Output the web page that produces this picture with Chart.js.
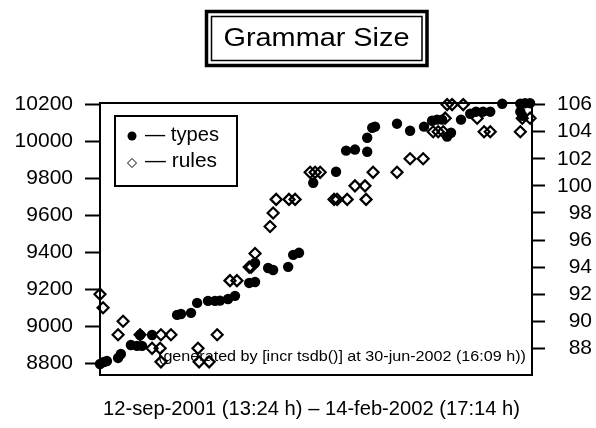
<!DOCTYPE html>
<html>
<head>
<meta charset="utf-8">
<script src="https://cdn.jsdelivr.net/npm/chart.js@4"></script>
<style>
  html, body { margin: 0; padding: 0; background: #fff; }
  #wrap { width: 596px; height: 428px; }
</style>
</head>
<body>
<div id="wrap"><canvas id="chart-grammar"></canvas></div>
<script>
// days since 12-sep-2001 (13:24 h)
const typesDays = [
    0, 1.4, 2.5, 6.5, 7.5, 11.1, 13.3, 14.4, 15.1, 18.7,
    27.7, 29.1, 32.7, 34.9, 38.8, 41.3, 43.1, 46.0, 48.5, 53.6,
    55.7, 55.7, 60.4, 62.2, 67.6, 69.4, 71.5, 76.6, 84.8, 88.4,
    91.6, 96.0, 96.0, 97.8, 98.8, 106.7, 111.4, 116.4, 119.3, 121.1,
    122.9, 124.7, 126.1, 129.7, 133.0, 135.1, 137.6, 140.2, 144.5, 151.0,
    151.0, 151.7, 152.7, 154.5
];
const typesValues = [
    8796, 8807, 8812, 8829, 8850, 8899, 8894, 8953, 8894, 8953,
    9062, 9067, 9073, 9127, 9138, 9138, 9139, 9148, 9165, 9235,
    9240, 9343, 9316, 9305, 9322, 9387, 9398, 9777, 9837, 9951,
    9957, 9945, 10021, 10075, 10081, 10097, 10059, 10081, 10113, 10119,
    10119, 10027, 10048, 10119, 10151, 10162, 10162, 10162, 10205, 10205,
    10162, 10140, 10208, 10208
];
const rulesDays = [
    0, 1.1, 6.5, 8.3, 14.4, 18.7, 21.6, 21.9, 21.9, 25.5,
    35.2, 35.6, 39.2, 42.1, 46.7, 49.2, 53.6, 54.3, 55.7, 61.1,
    62.2, 63.3, 67.9, 70.1, 75.5, 77.3, 79.1, 84.1, 85.2, 88.8,
    91.6, 95.2, 95.6, 98.1, 106.7, 111.4, 116.1, 119.7, 121.5, 123.3,
    124.0, 124.7, 126.5, 130.5, 135.5, 138.0, 140.2, 151.0, 151.7, 154.5
];
const rulesValues = [
    92, 91, 89, 90, 89, 88, 88, 89, 87, 89,
    88, 87, 87, 89, 93, 93, 94, 94, 95, 97,
    98, 99, 99, 99, 101, 101, 101, 99, 99, 99,
    100, 100, 99, 101, 101, 102, 102, 104, 104, 104,
    105, 106, 106, 106, 105, 104, 104, 104, 105, 105
];
const typesTicks = [8800, 9000, 9200, 9400, 9600, 9800, 10000, 10200];
const rulesTicks = [88, 90, 92, 94, 96, 98, 100, 102, 104, 106];
const legendLabels = ['types', 'rules'];
const titleText = 'Grammar Size';
const rangeText = '12-sep-2001 (13:24 h) \u2013 14-feb-2002 (17:14 h)';
const generatedText = '(generated by [incr tsdb()] at 30-jun-2002 (16:09 h))';

function toPoints(xs, ys) {
    return xs.map((x, i) => ({ x: x, y: ys[i] }));
}

// the original text is a bit wider than Liberation Sans, so stretch it
function wideText(ctx, text, x, y, size, width, align) {
    ctx.save();
    ctx.font = size + 'px "Liberation Sans", Arial, sans-serif';
    ctx.textBaseline = 'middle';
    ctx.textAlign = 'left';
    const sx = width / ctx.measureText(text).width;
    ctx.translate(align === 'center' ? x - width / 2 : x, y);
    ctx.scale(sx, 1);
    ctx.fillStyle = '#000';
    ctx.fillText(text, 0, 0);
    ctx.restore();
}

const framePlugin = {
    id: 'frame',
    beforeDatasetsDraw(chart) {
        const { ctx, chartArea: a } = chart;
        ctx.save();
        ctx.strokeStyle = '#000';
        ctx.lineWidth = 2;
        ctx.strokeRect(a.left, a.top, a.right - a.left, a.bottom - a.top);
        ctx.restore();
    },
    afterDatasetsDraw(chart) {
        const ctx = chart.ctx;
        ctx.save();
        // title box, double border
        ctx.strokeStyle = '#000';
        ctx.lineWidth = 3.5;
        ctx.strokeRect(206.5, 11.5, 220.5, 54);
        ctx.lineWidth = 1.5;
        ctx.strokeRect(211.5, 16.5, 210.5, 44);
        wideText(ctx, titleText, 316.5, 39, 26, 186, 'center');

        // legend
        ctx.fillStyle = '#fff';
        ctx.fillRect(115, 116, 122, 70);
        ctx.lineWidth = 2;
        ctx.strokeRect(115, 116, 122, 70);
        ctx.fillStyle = '#000';
        ctx.beginPath();
        ctx.arc(132, 136, 4.5, 0, Math.PI * 2);
        ctx.fill();
        ctx.lineWidth = 1;
        ctx.beginPath();
        ctx.moveTo(132, 158.5);
        ctx.lineTo(136.5, 163);
        ctx.lineTo(132, 167.5);
        ctx.lineTo(127.5, 163);
        ctx.closePath();
        ctx.stroke();
        wideText(ctx, '\u2014 ' + legendLabels[0], 145, 135.5, 20, 74, 'left');
        wideText(ctx, '\u2014 ' + legendLabels[1], 145, 161.5, 20, 72, 'left');

        wideText(ctx, generatedText, 158, 357.5, 14, 368, 'left');
        wideText(ctx, rangeText, 311.5, 409, 20, 417, 'center');
        ctx.restore();
    }
};

const tickFont = { family: '"Liberation Sans", Arial, sans-serif', size: 21 };

const configGrammar = {
    type: 'scatter',
    data: {
        datasets: [{
            label: legendLabels[0],
            data: toPoints(typesDays, typesValues),
            yAxisID: 'yTypes',
            pointStyle: 'circle',
            pointRadius: 5.2,
            pointBackgroundColor: '#000',
            pointBorderColor: '#000',
            pointBorderWidth: 0,
            clip: false,
            order: 1
        }, {
            label: legendLabels[1],
            data: toPoints(rulesDays, rulesValues),
            yAxisID: 'yRules',
            pointStyle: 'rectRot',
            pointRadius: 5.5,
            pointBackgroundColor: 'rgba(0,0,0,0)',
            pointBorderColor: '#000',
            pointBorderWidth: 2.2,
            clip: false,
            order: 0
        }]
    },
    options: {
        responsive: true,
        maintainAspectRatio: false,
        animation: false,
        events: [],
        layout: {
            padding: { top: 103, bottom: 53, left: 0, right: 4 }
        },
        scales: {
            x: {
                type: 'linear',
                display: false,
                min: 0,
                max: 155.2
            },
            yTypes: {
                position: 'left',
                min: 8736.6,
                max: 10209,
                afterBuildTicks: s => { s.ticks = typesTicks.map(v => ({ value: v })); },
                afterFit: s => { s.width = 100; },
                border: { display: false },
                grid: { drawOnChartArea: false, tickLength: 15, tickWidth: 2, tickColor: '#000' },
                ticks: { padding: 12, color: '#000', font: tickFont, callback: v => String(v) }
            },
            yRules: {
                position: 'right',
                min: 86.03,
                max: 106.12,
                afterBuildTicks: s => { s.ticks = rulesTicks.map(v => ({ value: v })); },
                afterFit: s => { s.width = 60; },
                border: { display: false },
                grid: { drawOnChartArea: false, tickLength: 13, tickWidth: 2, tickColor: '#000' },
                ticks: { padding: 8, color: '#000', crossAlign: 'far', font: tickFont, callback: v => String(v) }
            }
        },
        plugins: {
            legend: { display: false },
            tooltip: { enabled: false },
            title: { display: false }
        }
    },
    plugins: [framePlugin]
};

const myChartGrammar = new Chart(
    document.getElementById('chart-grammar'),
    configGrammar
);
</script>
</body>
</html>
